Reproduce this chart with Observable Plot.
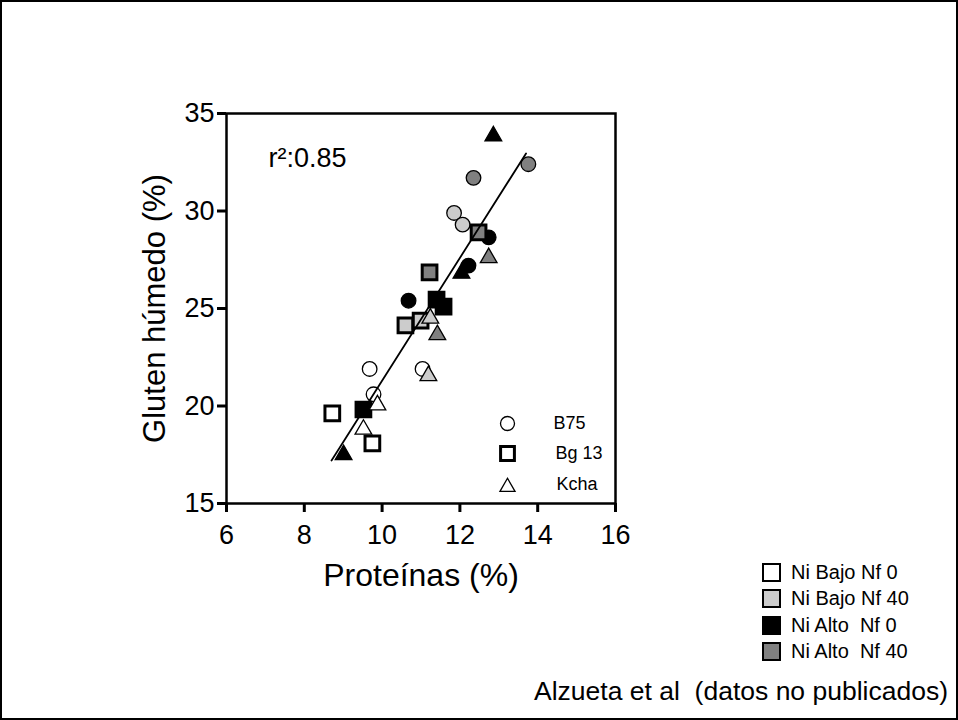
<!DOCTYPE html>
<html>
<head>
<meta charset="utf-8">
<script src="https://cdn.jsdelivr.net/npm/d3@7"></script>
<script src="https://cdn.jsdelivr.net/npm/@observablehq/plot@0.6"></script>
<style>
  body { margin: 0; background: #fff; }
  #fig { position: relative; width: 958px; height: 720px; overflow: hidden; background: #fff;
         font-family: "Liberation Sans", Arial, sans-serif; color: #000; }
  #fig svg { position: absolute; left: 0; top: 0; }
  #border { position: absolute; inset: 0; border: 2px solid #000; pointer-events: none; }
  #key { position: absolute; left: 762px; top: 559px; font-size: 20px; }
  #key .row { display: flex; align-items: center; height: 26.5px; white-space: pre; }
  #key .sw { width: 15px; height: 15px; border: 2px solid #000; margin-right: 10px; }
  #caption { position: absolute; right: 10px; top: 676px; font-size: 26.5px; white-space: pre; }
</style>
</head>
<body>
<div id="fig">
  <div id="key"></div>
  <div id="caption">Alzueta et al  (datos no publicados)</div>
  <div id="border"></div>
</div>
<script>
// Nitrogen treatments and their fills
const treatments = ["Ni Bajo Nf 0", "Ni Bajo Nf 40", "Ni Alto  Nf 0", "Ni Alto  Nf 40"];
const treatmentFills = ["#ffffff", "#cccccc", "#000000", "#808080"];

// Varieties and their symbols
const varieties = ["B75", "Bg 13", "Kcha"];
const varietySymbols = ["circle", "square", "triangle"];

// B75 (circles)
const b75Protein = [13.76, 12.35, 11.85, 12.07, 12.74, 12.22, 10.68, 9.68, 11.04, 9.78];
const b75Gluten  = [32.4, 31.7, 29.9, 29.3, 28.65, 27.2, 25.4, 21.9, 21.9, 20.6];
const b75Trt     = [3, 3, 1, 1, 2, 2, 2, 0, 0, 0];

// Bg 13 (squares)
const bg13Protein = [12.48, 11.22, 11.4, 11.58, 10.6, 10.99, 9.52, 8.72, 9.75];
const bg13Gluten  = [28.9, 26.85, 25.45, 25.1, 24.13, 24.38, 19.82, 19.62, 18.08];
const bg13Trt     = [3, 3, 2, 2, 1, 1, 2, 0, 0];

// Kcha (triangles)
const kchaProtein = [12.86, 12.74, 12.04, 11.24, 11.42, 11.19, 9.88, 9.52, 9.01];
const kchaGluten  = [33.85, 27.6, 26.8, 24.5, 23.65, 21.55, 20.05, 18.8, 17.5];
const kchaTrt     = [2, 3, 2, 1, 3, 1, 0, 0, 2];

// Fitted regression line (ends of the drawn segment)
const fitProtein = [8.7, 13.7];
const fitGluten  = [17.2, 32.95];
const r2 = 0.85;

// Axis ticks
const xTicks = [6, 8, 10, 12, 14, 16];
const yTicks = [15, 20, 25, 30, 35];

const toRows = (px, gl, trt, v) => px.map((p, i) => ({protein: p, gluten: gl[i], treatment: treatments[trt[i]], variety: v}));
const b75 = toRows(b75Protein, b75Gluten, b75Trt, varieties[0]);
const bg13 = toRows(bg13Protein, bg13Gluten, bg13Trt, varieties[1]);
const kcha = toRows(kchaProtein, kchaGluten, kchaTrt, varieties[2]);
const fit = fitProtein.map((p, i) => ({protein: p, gluten: fitGluten[i]}));

const font = "'Liberation Sans', Arial, sans-serif";

// Variety key inside the frame (bottom-right corner)
const keyOffsets = [
  {dy: -80, tdx: -62, tdy: -80, r: 7, sw: 1.3},
  {dy: -50, tdx: -60, tdy: -50, r: 7.8, sw: 3},
  {dy: -16.5, tdx: -59, tdy: -19, r: 5.6, sw: 1.3}
];
const varietyKey = varieties.flatMap((v, i) => [
  Plot.dot([v], {frameAnchor: "bottom-right", dx: -108, dy: keyOffsets[i].dy, symbol: varietySymbols[i],
                 r: keyOffsets[i].r, fill: "white", stroke: "black", strokeWidth: keyOffsets[i].sw}),
  Plot.text([v], {frameAnchor: "bottom-right", dx: keyOffsets[i].tdx, dy: keyOffsets[i].tdy,
                  text: d => d, textAnchor: "start", lineAnchor: "middle", fontSize: 18, fill: "black"})
]);

const chart = Plot.plot({
  width: 958,
  height: 720,
  marginLeft: 226,
  marginRight: 343,
  marginTop: 113,
  marginBottom: 217,
  style: {fontFamily: font, fontSize: "26px", color: "#000", background: "transparent"},
  x: {domain: [6, 16]},
  y: {domain: [15, 35]},
  color: {type: "ordinal", domain: treatments, range: treatmentFills},
  marks: [
    Plot.axisX({ticks: xTicks, tickSize: 9, tickPadding: 12, strokeWidth: 3, label: null}),
    Plot.axisY({ticks: yTicks, tickSize: 9, tickPadding: 3, strokeWidth: 3, label: null}),
    Plot.frame({stroke: "black", strokeWidth: 2.5}),
    Plot.text(["Proteínas (%)"], {frameAnchor: "bottom", dy: 82, text: d => d, fontSize: 32, fill: "black"}),
    Plot.text(["Gluten húmedo (%)"], {frameAnchor: "left", dx: -71, rotate: -90, textAnchor: "middle",
                                      lineAnchor: "middle", text: d => d, fontSize: 31, fill: "black"}),
    Plot.text([`r²:${r2.toFixed(2)}`], {frameAnchor: "top-left", dx: 42, dy: 34, textAnchor: "start",
                                          lineAnchor: "top", text: d => d, fontSize: 27, fill: "black"}),
    Plot.dot(b75, {x: "protein", y: "gluten", fill: "treatment", symbol: "circle", r: 7.3,
                   stroke: "black", strokeWidth: 1.3}),
    Plot.dot(bg13, {x: "protein", y: "gluten", fill: "treatment", symbol: "square", r: 8.3,
                    stroke: "black", strokeWidth: 3}),
    Plot.dot(kcha, {x: "protein", y: "gluten", fill: "treatment", symbol: "triangle", r: 6.2,
                    stroke: "black", strokeWidth: 1.3}),
    Plot.line(fit, {x: "protein", y: "gluten", stroke: "black", strokeWidth: 1.8}),
    ...varietyKey
  ]
});

// Larger tick labels on both axes
d3.select(chart)
  .selectAll('[aria-label="x-axis tick label"] text, [aria-label="y-axis tick label"] text')
  .style("font-size", "27px");

document.getElementById("fig").prepend(chart);

// Treatment key (bottom-right, outside the frame)
const key = d3.select("#key");
treatments.forEach((t, i) => {
  const row = key.append("div").attr("class", "row");
  row.append("div").attr("class", "sw").style("background", treatmentFills[i]);
  row.append("span").text(t);
});
</script>
</body>
</html>
